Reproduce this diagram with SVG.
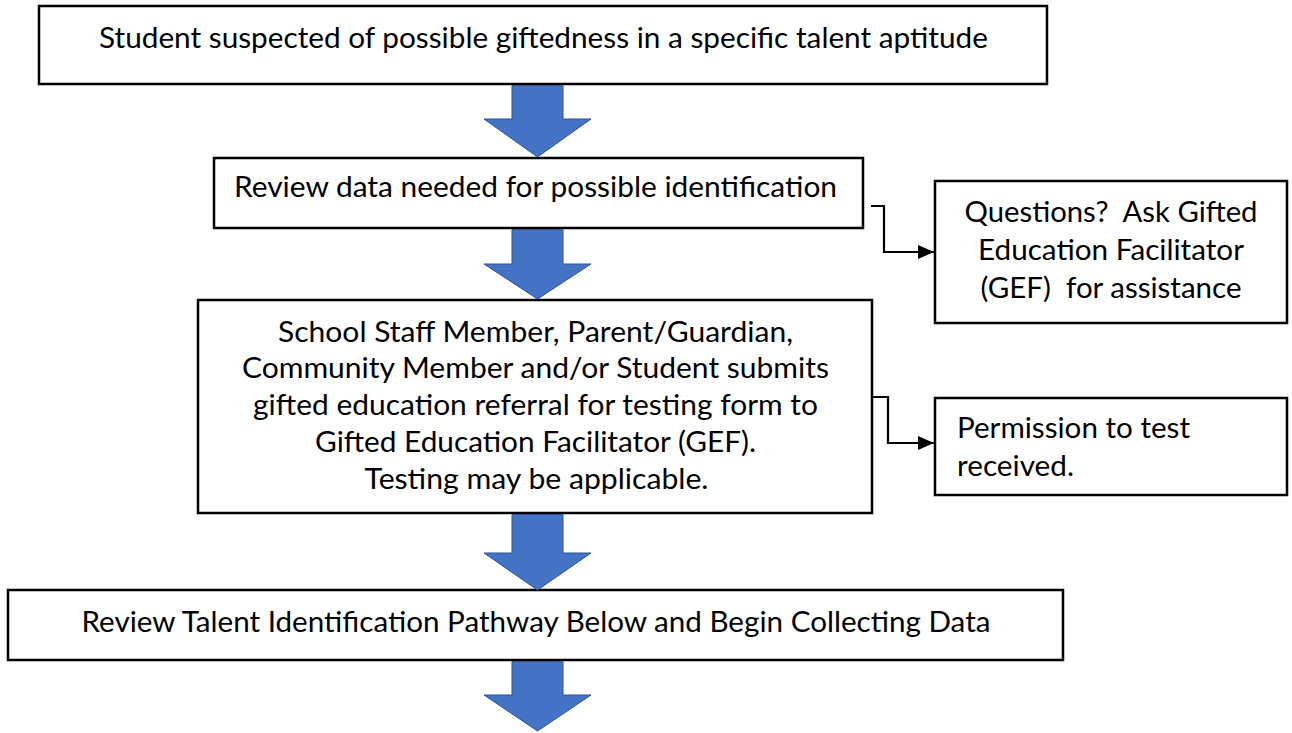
<svg xmlns="http://www.w3.org/2000/svg" width="1292" height="733" viewBox="0 0 1292 733">
<style>
.box{fill:#fff;stroke:#000;stroke-width:2.5}
.t{font-family:Lato,"Liberation Sans",sans-serif;font-size:29.5px;fill:#000}
.m{text-anchor:middle}
.arr{fill:#4472C4;stroke:#2F528F;stroke-width:1}
.con{fill:none;stroke:#000;stroke-width:2.2}
</style>
<defs>
<marker id="ah" viewBox="0 0 10 10" refX="10" refY="5" markerWidth="7" markerHeight="6.5" markerUnits="userSpaceOnUse" orient="auto">
<path d="M0,0 L10,5 L0,10 Z" fill="#000"/>
</marker>
<marker id="ah2" viewBox="0 0 16 14" refX="16" refY="7" markerWidth="16" markerHeight="14" markerUnits="userSpaceOnUse" orient="auto">
<path d="M0,0 L16,7 L0,14 Z" fill="#000"/>
</marker>
</defs>
<g id="n1">
<rect class="box" x="39" y="6" width="1008" height="78"/>
<text class="t m" x="543.5" y="48" textLength="889" lengthAdjust="spacingAndGlyphs">Student suspected of possible giftedness in a specific talent aptitude</text>
</g>
<g id="n2">
<rect class="box" x="214" y="158" width="649" height="70"/>
<text class="t m" x="535.5" y="197" textLength="603" lengthAdjust="spacingAndGlyphs">Review data needed for possible identification</text>
</g>
<g id="n3">
<rect class="box" x="935" y="181" width="352" height="142"/>
<text class="t m" x="1111" y="222" textLength="293" lengthAdjust="spacingAndGlyphs" xml:space="preserve">Questions?  Ask Gifted</text>
<text class="t m" x="1111" y="260" textLength="266" lengthAdjust="spacingAndGlyphs">Education Facilitator</text>
<text class="t m" x="1111" y="298" textLength="261" lengthAdjust="spacingAndGlyphs" xml:space="preserve">(GEF)  for assistance</text>
</g>
<g id="n4">
<rect class="box" x="198" y="300" width="674" height="213"/>
<text class="t m" x="535.5" y="342" textLength="515" lengthAdjust="spacingAndGlyphs">School Staff Member, Parent/Guardian,</text>
<text class="t m" x="535.5" y="378" textLength="587" lengthAdjust="spacingAndGlyphs">Community Member and/or Student submits</text>
<text class="t m" x="535.5" y="415" textLength="565" lengthAdjust="spacingAndGlyphs">gifted education referral for testing form to</text>
<text class="t m" x="535.5" y="452" textLength="441" lengthAdjust="spacingAndGlyphs">Gifted Education Facilitator (GEF).</text>
<text class="t m" x="536.5" y="489" textLength="344" lengthAdjust="spacingAndGlyphs">Testing may be applicable.</text>
</g>
<g id="n5">
<rect class="box" x="935" y="398" width="352" height="97"/>
<text class="t" x="957" y="438" textLength="233" lengthAdjust="spacingAndGlyphs">Permission to test</text>
<text class="t" x="957" y="476" textLength="117" lengthAdjust="spacingAndGlyphs">received.</text>
</g>
<g id="n6">
<rect class="box" x="8" y="590" width="1055" height="70"/>
<text class="t m" x="536" y="632" textLength="909" lengthAdjust="spacingAndGlyphs">Review Talent Identification Pathway Below and Begin Collecting Data</text>
</g>
<g id="connectors">
<path class="arr" d="M512,85.5 H563 V119 H591 L537.5,157 L484,119 H512 Z"/>
<path class="arr" d="M512,229.5 H563 V264 H591 L537.5,299 L484,264 H512 Z"/>
<path class="arr" d="M512,514.5 H563 V553 H591 L537.5,590 L484,553 H512 Z"/>
<path class="arr" d="M512,661.5 H563 V695 H591 L537.5,731 L484,695 H512 Z"/>
<path class="con" d="M871,206 H884 V252 H934" marker-end="url(#ah2)"/>
<path class="con" d="M872,397 H888 V443 H934" marker-end="url(#ah2)"/>
</g>
</svg>
